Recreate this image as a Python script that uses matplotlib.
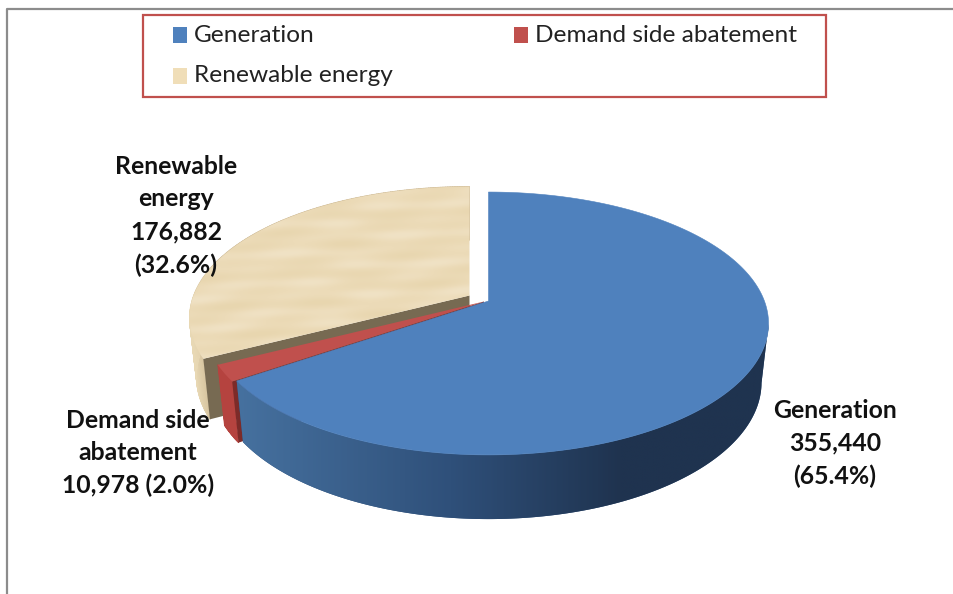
"""
Energy mix pie - fake 3D look with polygons, Office style
"""
import numpy as np
import matplotlib.pyplot as plt
from matplotlib.collections import PolyCollection
from matplotlib.colors import LinearSegmentedColormap, to_rgb
from matplotlib.patches import Polygon, Rectangle

# Data
categories = ['Generation', 'Demand side abatement', 'Renewable energy']
values = [355440, 10978, 176882]
label_lines = [
    ['Generation', '{v}', '({p})'],
    ['Demand side', 'abatement', '{v} ({p})'],
    ['Renewable', 'energy', '{v}', '({p})'],
]

plt.rcParams['font.family'] = ['Lato', 'DejaVu Sans']

fig = plt.figure(figsize=(9.54, 5.94), dpi=100, facecolor='white')
ax = fig.add_axes([0, 0, 1, 1])
ax.set_axis_off()

# Perspective of the disc, fitted to the picture
A, B, K = 127.6, 275.9, 0.171
SX, SY, DEPTH = 0.975, 1.04, 58

top_colors = ['#4f81bd', '#c0504d', '#ecdcb9']
centers = [(488.5, 301), (484, 301.5), (469.5, 295.5)]


def disc(angles, center, bottom=False):
    t = np.radians(angles)
    w = 1 + K * np.sin(t)
    x = B * np.cos(t) / w
    y = -A * np.sin(t) / w
    if bottom:
        return np.column_stack([center[0] + SX * x, center[1] + DEPTH + SY * y])
    return np.column_stack([center[0] + x, center[1] + y])


def mix(c1, c2, f):
    return tuple(np.array(to_rgb(c1)) * (1 - f) + np.array(to_rgb(c2)) * f)


def rim(angles, center, color_fn, zorder):
    top = disc(angles, center)
    bot = disc(angles, center, bottom=True)
    quads, cols = [], []
    for i in range(len(angles) - 1):
        quads.append([top[i], top[i + 1], bot[i + 1], bot[i]])
        cols.append(color_fn((top[i][0] + top[i + 1][0]) / 2))
    ax.add_collection(PolyCollection(quads, facecolors=cols, edgecolors=cols,
                                     linewidths=0.6, zorder=zorder))


# Slice angles, clockwise from 12 o'clock
fracs = np.array(values) / sum(values)
edges = 90 - 360 * np.concatenate([[0], np.cumsum(fracs)])


def tan_shade(x):
    return mix('#e8d8b4', '#cdb994', np.clip((x - 190) / 22, 0, 1))


# Renewable energy: outer rim and cut face first
ang = np.linspace(edges[2], edges[3], 200)
rim(ang, centers[2], tan_shade, 1)
corner_t = disc([edges[2]], centers[2])[0]
corner_b = disc([edges[2]], centers[2], bottom=True)[0]
apex_t = np.array(centers[2], dtype=float)
apex_b = apex_t + [0, DEPTH]
ax.add_patch(Polygon([apex_t, corner_t, corner_b, apex_b], closed=True,
                     facecolor='#776a52', edgecolor='none', zorder=2))

# Renewable energy top, mottled like the Office paper texture
top_poly = Polygon(np.vstack([[apex_t], disc(ang, centers[2])]), closed=True,
                   facecolor='none', edgecolor='none', zorder=3)
ax.add_patch(top_poly)
gx, gy = np.meshgrid(np.arange(180, 480), np.arange(180, 370))
tex = (np.sin(gy / 5.0 + np.sin(gx / 37.0) * 1.5)
       + 0.7 * np.sin(gy / 2.3 + gx / 61.0)
       + 0.7 * np.sin(gx / 13.0 + gy / 7.0))
cmap = LinearSegmentedColormap.from_list('paper', ['#e8d6af', '#ecdbb8', '#f0e2c5'])
img = ax.imshow(tex, extent=(180, 480, 370, 180), cmap=cmap, aspect='auto',
                interpolation='bilinear', zorder=3)
img.set_clip_path(top_poly)

# Demand side abatement
ang = np.linspace(edges[1], edges[2], 20)
rim(ang, centers[1], lambda x: to_rgb('#b5433f'), 4)
corner_t = disc([edges[1]], centers[1])[0]
corner_b = disc([edges[1]], centers[1], bottom=True)[0]
apex_t = np.array(centers[1], dtype=float)
ax.add_patch(Polygon([apex_t, corner_t, corner_b, apex_t + [0, DEPTH]], closed=True,
                     facecolor='#7c2b29', edgecolor='none', zorder=5))
ax.add_patch(Polygon(np.vstack([[apex_t], disc(ang, centers[1])]), closed=True,
                     facecolor=top_colors[1], edgecolor='none', zorder=6))

# Generation: side wall as a clipped horizontal gradient, up to the silhouette
ang = np.linspace(edges[0], edges[1], 500)
front = ang[ang < np.degrees(np.arcsin(-K))]
wall = Polygon(np.vstack([disc(front, centers[0]),
                          disc(front, centers[0], bottom=True)[::-1]]), closed=True,
               facecolor='#2f507a', edgecolor='none', zorder=7)
ax.add_patch(wall)
shade = LinearSegmentedColormap.from_list(
    'wall', [(0, '#46719f'), (0.4, '#2f507a'), (0.72, '#1f334f'), (1, '#1f334f')])
grad = ax.imshow(np.linspace(0, 1, 300)[None, :], extent=(236, 772, 530, 300), cmap=shade,
                 aspect='auto', interpolation='bilinear', zorder=7)
grad.set_clip_path(wall)
ax.add_patch(Polygon(np.vstack([[centers[0]], disc(ang, centers[0])]), closed=True,
                     facecolor=top_colors[0], edgecolor=top_colors[0], linewidth=0.4, zorder=8))

# Data labels
label_pos = [(835, [410, 443, 476]), (138, [421, 453, 485]),
             (176, [166, 199, 232, 265])]
for lines, val, frac, (lx, ys) in zip(label_lines, values, fracs, label_pos):
    for line, ly in zip(lines, ys):
        txt = line.format(v=f'{val:,}', p=f'{frac * 100:.1f}%')
        ax.text(lx, ly, txt, ha='center', va='center', fontsize=17.8,
                fontweight='bold', color='#111111', zorder=10)

# Outer chart frame, top and left only reach the crop
ax.plot([7, 7, 954], [594, 8.5, 8.5], color='#8c8c8c', linewidth=1.6, zorder=11)

# Legend
ax.add_patch(Rectangle((143, 14.5), 683, 82.5, facecolor='white', edgecolor='#c0504d',
                       linewidth=1.6, zorder=11))
legend_colors = ['#4f81bd', '#c0504d', '#f0deb8']
legend_pos = [(173, 35), (514, 35), (173, 76)]
for name, col, (mx, my) in zip(categories, legend_colors, legend_pos):
    ax.add_patch(Rectangle((mx, my - 8), 14, 16, facecolor=col, edgecolor='none', zorder=12))
    ax.text(mx + 21, my, name, ha='left', va='center', fontsize=17.6,
            color='#222222', zorder=12)

ax.set_xlim(0, 954)
ax.set_ylim(594, 0)

fig.savefig('out.png', dpi=100, facecolor='white')
